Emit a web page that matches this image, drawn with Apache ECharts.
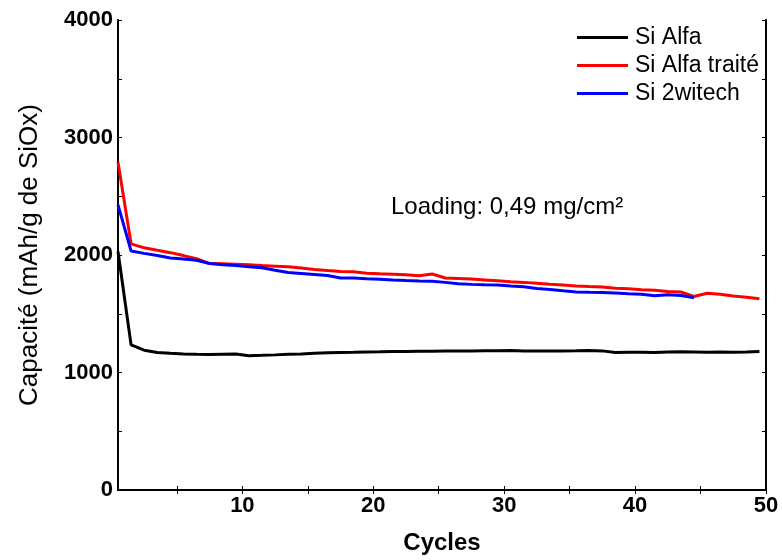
<!DOCTYPE html>
<html>
<head>
<meta charset="utf-8">
<script src="https://cdn.jsdelivr.net/npm/echarts@6/dist/echarts.min.js"></script>
<style>
html,body{margin:0;padding:0;background:#fff;}
#chart{width:782px;height:560px;}
</style>
</head>
<body>
<div id="chart"></div>
<script>
// x positions of the cycles
const cycleX = [0.5,1.5,2.5,3.5,4.5,5.5,6.5,7.5,8.5,9.5,10.5,11.5,12.5,13.5,14.5,15.5,16.5,17.5,18.5,19.5,
  20.5,21.5,22.5,23.5,24.5,25.5,26.5,27.5,28.5,29.5,30.5,31.5,32.5,33.5,34.5,35.5,36.5,37.5,38.5,39.5,
  40.5,41.5,42.5,43.5,44.5,45.5,46.5,47.5,48.5,49.5];

const siAlfa = [2030,1235,1190,1170,1163,1157,1155,1154,1156,1157,1143,1146,1150,1155,1158,1163,1168,1170,1172,1175,
  1176,1178,1179,1180,1181,1182,1182,1183,1186,1186,1187,1184,1182,1183,1184,1185,1187,1184,1170,1172,
  1173,1170,1175,1176,1174,1172,1175,1172,1174,1178];

const siAlfaTraite = [2790,2095,2061,2040,2020,1995,1969,1927,1925,1922,1918,1910,1905,1900,1890,1877,1868,1860,1857,1845,
  1840,1837,1832,1824,1838,1804,1800,1796,1788,1780,1772,1767,1760,1752,1745,1737,1732,1728,1718,1712,
  1705,1700,1690,1685,1647,1675,1665,1652,1640,1628];

const si2witech = [2426,2034,2014,1995,1975,1965,1955,1927,1918,1910,1900,1891,1870,1851,1843,1835,1826,1805,1804,1798,
  1793,1787,1782,1778,1776,1767,1755,1750,1747,1745,1737,1730,1715,1706,1695,1686,1683,1681,1677,1670,
  1666,1653,1661,1655,1636];

const seriesNames = ['Si Alfa', 'Si Alfa traité', 'Si 2witech'];
const xLabelValues = [10, 20, 30, 40, 50];
const xTickValues = [5, 10, 15, 20, 25, 30, 35, 40, 45, 50];
const yLabelValues = [0, 1000, 2000, 3000, 4000];
const yTickValues = [0, 500, 1000, 1500, 2000, 2500, 3000, 3500, 4000];
const annotation = 'Loading: 0,49 mg/cm²';

function pairs(vals) { return vals.map((v, i) => [cycleX[i], v]); }

const FONT = '"Liberation Sans", Arial, sans-serif';
const axisLine = { show: true, lineStyle: { color: '#000', width: 2 } };

const chart = echarts.init(document.getElementById('chart'), null, { renderer: 'canvas' });
chart.setOption({
  backgroundColor: '#fff',
  animation: false,
  grid: { left: 118, right: 16, top: 20, bottom: 64, containLabel: false },
  legend: {
    orient: 'vertical',
    left: 577,
    top: 26,
    padding: 0,
    icon: 'rect',
    itemWidth: 51,
    itemHeight: 3,
    itemGap: 5,
    data: seriesNames,
    textStyle: { fontFamily: FONT, fontSize: 23, color: '#000', padding: [0, 0, 0, 2] }
  },
  xAxis: [{
    type: 'value', min: 0.5, max: 50,
    name: 'Cycles', nameLocation: 'middle', nameGap: 41,
    nameTextStyle: { fontFamily: FONT, fontSize: 24, fontWeight: 'bold', color: '#000' },
    axisLine: axisLine,
    axisTick: { show: true, inside: true, length: 4, lineStyle: { color: '#000', width: 1 }, customValues: xTickValues },
    axisLabel: { show: true, customValues: xLabelValues, margin: 5, fontFamily: FONT, fontSize: 22, fontWeight: 'bold', color: '#000',
      formatter: v => String(v) },
    splitLine: { show: false }
  }, {
    type: 'value', min: 0.5, max: 50, position: 'top',
    axisLine: axisLine,
    axisTick: { show: true, inside: true, length: 4, lineStyle: { color: '#000', width: 1 }, customValues: xTickValues },
    axisLabel: { show: false },
    splitLine: { show: false }
  }],
  yAxis: [{
    type: 'value', min: 0, max: 4000,
    name: 'Capacité (mAh/g de SiOx)', nameLocation: 'middle', nameGap: 75,
    nameTextStyle: { fontFamily: FONT, fontSize: 26, color: '#000' },
    axisLine: axisLine,
    axisTick: { show: true, inside: true, length: 4, lineStyle: { color: '#000', width: 1 }, customValues: yTickValues },
    axisLabel: { show: true, customValues: yLabelValues, margin: 5, fontFamily: FONT, fontSize: 22, fontWeight: 'bold', color: '#000',
      formatter: v => String(v) },
    splitLine: { show: false }
  }, {
    type: 'value', min: 0, max: 4000, position: 'right',
    axisLine: axisLine,
    axisTick: { show: true, inside: true, length: 4, lineStyle: { color: '#000', width: 1 }, customValues: yTickValues },
    axisLabel: { show: false },
    splitLine: { show: false }
  }],
  graphic: [{
    type: 'text', left: 391, top: 195,
    style: { text: annotation, font: '24px ' + FONT, fill: '#000' }
  }],
  series: [
    { name: seriesNames[0], type: 'line', data: pairs(siAlfa), showSymbol: false, symbol: 'none',
      lineStyle: { color: '#000', width: 3 }, itemStyle: { color: '#000' }, z: 3 },
    { name: seriesNames[1], type: 'line', data: pairs(siAlfaTraite), showSymbol: false, symbol: 'none',
      lineStyle: { color: '#ff0000', width: 3 }, itemStyle: { color: '#ff0000' }, z: 2 },
    { name: seriesNames[2], type: 'line', data: pairs(si2witech), showSymbol: false, symbol: 'none',
      lineStyle: { color: '#0000ff', width: 3 }, itemStyle: { color: '#0000ff' }, z: 4 }
  ]
});
</script>
</body>
</html>
